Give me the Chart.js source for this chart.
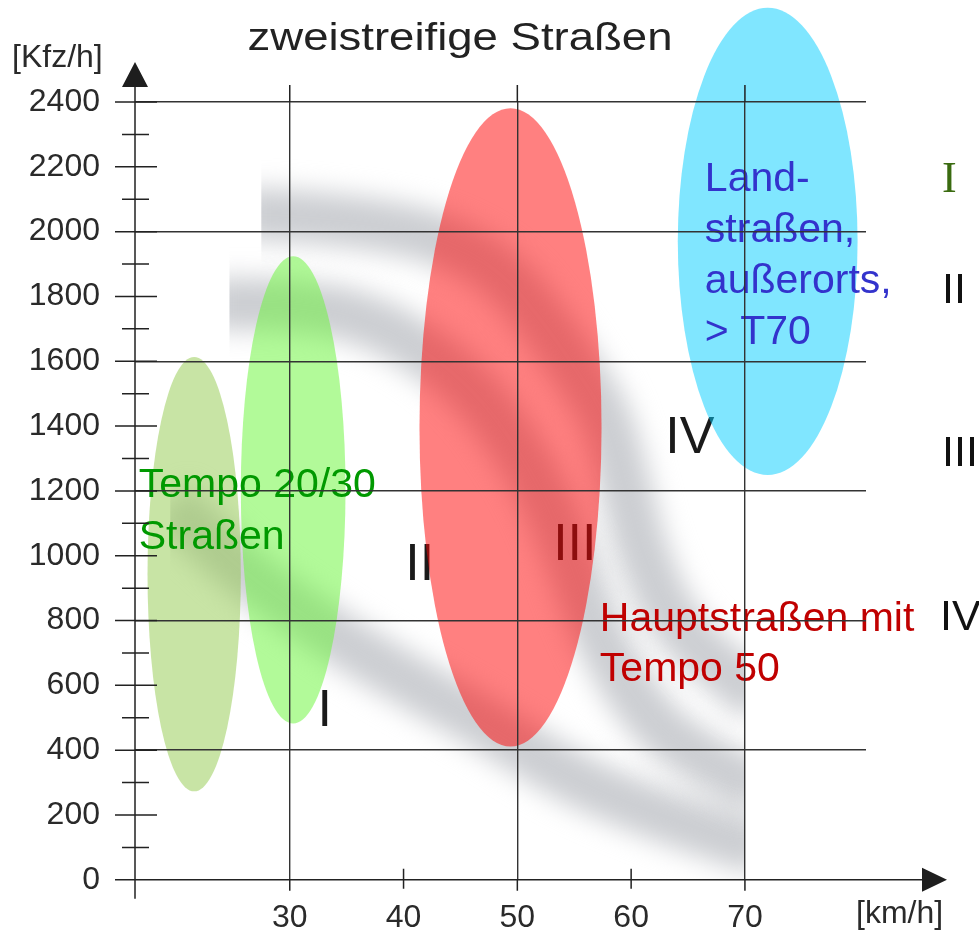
<!DOCTYPE html>
<html><head><meta charset="utf-8">
<script src="https://cdn.jsdelivr.net/npm/chart.js@4/dist/chart.umd.min.js"></script>
<style>html,body{margin:0;padding:0;background:#fff;}canvas{display:block;}</style>
</head><body>
<canvas id="c" width="979" height="934"></canvas>
<script>
// ---------- axes ----------
const SPEED_TICKS = [30, 40, 50, 60, 70];
const SPEED_GRID = [30, 50, 70];
const FLOW_TICKS = [0, 200, 400, 600, 800, 1000, 1200, 1400, 1600, 1800, 2000, 2200, 2400];
const FLOW_MINOR = [100, 300, 500, 700, 900, 1100, 1300, 1500, 1700, 1900, 2100, 2300];
const FLOW_GRID = [400, 800, 1200, 1600, 2000, 2400];
const SPEED_MIN = 16.4, SPEED_MAX = 80.64, FLOW_MIN = 0, FLOW_MAX = 2400;

// ---------- road types (ellipses) ----------
const ROAD_TYPES = ['Tempo 20', 'Tempo 30', 'Hauptstraßen Tempo 50', 'Landstraßen außerorts'];
const ROAD_SPEED = [21.6, 30.3, 49.4, 72.0];
const ROAD_FLOW = [943, 1203, 1396, 1970];
const ROAD_SPEED_SPREAD = [4.1, 4.6, 8.0, 7.9];
const ROAD_FLOW_SPREAD = [670, 721, 985, 721];

// ---------- zone boundary bands ----------
const BAND_A_SPEED = [25.6, 27.5, 33.5, 39.7, 44.1, 48.5, 52.0, 55.1, 57.7, 59.5, 61.2, 64.3, 70.0, 71.5];
const BAND_A_FLOW  = [2053, 2053, 2038, 2007, 1961, 1869, 1731, 1577, 1424, 1209, 994, 780, 595, 560];
const BAND_B_SPEED = [23.0, 24.7, 30.9, 36.2, 41.4, 45.8, 49.3, 52.4, 54.6, 57.3, 61.7, 66.0, 70.0, 71.5];
const BAND_B_FLOW  = [1777, 1777, 1768, 1731, 1639, 1516, 1363, 1179, 994, 749, 503, 381, 304, 285];
const BAND_C_SPEED = [19.5, 25.6, 30.9, 36.2, 41.4, 46.7, 50.0, 55.5, 61.7, 70.0, 71.5];
const BAND_C_FLOW  = [1163, 964, 826, 703, 595, 488, 417, 304, 212, 110, 95];
const BAND_START = [27.5, 24.7, 19.5];
const BAND_END = 70;

// ---------- labels ----------
const ZONE_LABELS = ['I', 'II', 'III', 'IV'];
const ZONE_SPEED = [33.08, 41.43, 55.05, 65.16];
const ZONE_FLOW = [519, 970, 1031, 1360];
const SIDE_LABELS = ['I', 'II', 'III', 'IV'];
const SIDE_FLOW = [2121, 1780, 1277, 770];
const ROAD_TEXT = [['Tempo 20/30', 'Straßen'], ['Hauptstraßen mit', 'Tempo 50'], ['Land-', 'straßen,', 'außerorts,', '> T70']];
const ROAD_TEXT_SPEED = [16.73, 57.25, 66.48];
const ROAD_TEXT_FLOW = [1182, 767, 2124];

const FONT = '"Liberation Sans", Arial, sans-serif';
const ELL_COLORS = ['rgba(145,201,75,0.5)', 'rgba(101,245,51,0.5)', 'rgba(255,1,1,0.5)', 'rgba(1,205,255,0.5)'];
const TEXT_COLORS = ['#009900', '#C00000', '#3333CC'];
const GRID_COLOR = '#333333';

const toPts = (xs, ys) => xs.map((v, i) => ({x: v, y: ys[i]}));
const bandStyle = {type: 'line', band: true, borderColor: 'rgb(204,206,210)', borderWidth: 52, pointRadius: 0, tension: 0.4, fill: false, blur: 13};

const bandPlugin = {
  id: 'bandPlugin',
  beforeDatasetDraw(chart, args) {
    const ds = chart.data.datasets[args.index];
    if (!ds.band) return;
    const {ctx, chartArea: a, scales: {x}} = chart;
    ctx.save();
    const l = x.getPixelForValue(ds.clipFrom), r = x.getPixelForValue(BAND_END);
    ctx.beginPath(); ctx.rect(l, a.top, r - l, a.bottom - a.top); ctx.clip();
    ctx.filter = 'blur(' + ds.blur + 'px)';
    ctx.globalCompositeOperation = 'multiply';
  },
  afterDatasetDraw(chart, args) {
    if (chart.data.datasets[args.index].band) chart.ctx.restore();
  },
  afterDatasetsDraw(chart) {
    const {ctx, scales: {x, y}} = chart;
    ctx.save();
    // zone labels (under the ellipses)
    ctx.fillStyle = '#1a1a1a';
    ctx.font = '52px ' + FONT;
    ctx.textAlign = 'center'; ctx.textBaseline = 'middle';
    ZONE_LABELS.forEach((t, i) => ctx.fillText(t, x.getPixelForValue(ZONE_SPEED[i]), y.getPixelForValue(ZONE_FLOW[i])));
    // ellipses
    ROAD_TYPES.forEach((n, i) => {
      const cx = x.getPixelForValue(ROAD_SPEED[i]), cy = y.getPixelForValue(ROAD_FLOW[i]);
      const rx = Math.abs(x.getPixelForValue(ROAD_SPEED[i] + ROAD_SPEED_SPREAD[i]) - cx);
      const ry = Math.abs(y.getPixelForValue(ROAD_FLOW[i] + ROAD_FLOW_SPREAD[i]) - cy);
      ctx.beginPath(); ctx.ellipse(cx, cy, rx, ry, 0, 0, Math.PI * 2);
      ctx.fillStyle = ELL_COLORS[i]; ctx.fill();
    });
    // road type texts
    ctx.font = '41px ' + FONT;
    ctx.textAlign = 'left'; ctx.textBaseline = 'alphabetic';
    const lh = [52, 50, 51];
    ROAD_TEXT.forEach((lines, i) => {
      ctx.fillStyle = TEXT_COLORS[i];
      const bx = x.getPixelForValue(ROAD_TEXT_SPEED[i]), by = y.getPixelForValue(ROAD_TEXT_FLOW[i]);
      lines.forEach((t, j) => ctx.fillText(t, bx, by + j * lh[i]));
    });
    ctx.restore();
  },
  afterDraw(chart) {
    const {ctx, chartArea: a, scales: {x, y}} = chart;
    ctx.save();
    ctx.strokeStyle = '#222'; ctx.fillStyle = '#1e1e1e'; ctx.lineWidth = 1.5;
    const ax = x.getPixelForValue(SPEED_MIN), ay = y.getPixelForValue(FLOW_MIN);
    ctx.beginPath();
    ctx.moveTo(ax, ay + 19); ctx.lineTo(ax, a.top - 17);
    ctx.moveTo(ax - 20, ay); ctx.lineTo(a.right + 58, ay);
    FLOW_TICKS.forEach(v => { const p = y.getPixelForValue(v); ctx.moveTo(ax - 20, p); ctx.lineTo(ax + 22, p); });
    FLOW_MINOR.forEach(v => { const p = y.getPixelForValue(v); ctx.moveTo(ax - 13, p); ctx.lineTo(ax + 14, p); });
    SPEED_TICKS.forEach(v => {
      const p = x.getPixelForValue(v);
      if (SPEED_GRID.includes(v)) { ctx.moveTo(p, a.top); ctx.lineTo(p, a.top - 17); ctx.moveTo(p, ay); ctx.lineTo(p, ay + 11); }
      else { ctx.moveTo(p, ay - 11); ctx.lineTo(p, ay + 9); }
    });
    ctx.stroke();
    // arrows
    ctx.beginPath();
    ctx.moveTo(ax, a.top - 40); ctx.lineTo(ax - 13, a.top - 15); ctx.lineTo(ax + 13, a.top - 15); ctx.closePath();
    ctx.moveTo(a.right + 81, ay); ctx.lineTo(a.right + 56, ay - 12); ctx.lineTo(a.right + 56, ay + 12); ctx.closePath();
    ctx.fill();
    // axis titles
    ctx.fillStyle = '#2a2a2a';
    ctx.font = '32px ' + FONT; ctx.textBaseline = 'alphabetic'; ctx.textAlign = 'left';
    ctx.fillText('[Kfz/h]', 12, 67);
    ctx.fillText('[km/h]', 856, 923);
    // title
    ctx.fillStyle = '#222';
    ctx.font = '38px ' + FONT;
    const t = 'zweistreifige Straßen', w = ctx.measureText(t).width, sx = 425 / w;
    ctx.save(); ctx.translate(460, 50); ctx.scale(sx, 1); ctx.textAlign = 'center'; ctx.fillText(t, 0, 0); ctx.restore();
    // side labels
    SIDE_LABELS.forEach((s, i) => {
      const py = y.getPixelForValue(SIDE_FLOW[i]);
      if (i === 0) { ctx.font = '44px "Liberation Serif", "Times New Roman", serif'; ctx.fillStyle = '#3A6B10'; }
      else { ctx.font = '43px ' + FONT; ctx.fillStyle = '#111'; }
      ctx.fillText(s, i === 3 ? 940 : 942, py);
    });
    ctx.restore();
  }
};

new Chart(document.getElementById('c'), {
  type: 'scatter',
  data: {
    datasets: [
      Object.assign({}, bandStyle, {label: 'Grenze III/IV', data: toPts(BAND_A_SPEED, BAND_A_FLOW), clipFrom: BAND_START[0]}),
      Object.assign({}, bandStyle, {label: 'Grenze II/III', data: toPts(BAND_B_SPEED, BAND_B_FLOW), clipFrom: BAND_START[1]}),
      Object.assign({}, bandStyle, {label: 'Grenze I/II', data: toPts(BAND_C_SPEED, BAND_C_FLOW), clipFrom: BAND_START[2]})
    ]
  },
  options: {
    responsive: false, animation: false, devicePixelRatio: 1,
    layout: {padding: {left: 0, top: 102, right: 113, bottom: 0}},
    plugins: {legend: {display: false}, tooltip: {enabled: false}, title: {display: false}},
    scales: {
      x: {
        type: 'linear', min: SPEED_MIN, max: SPEED_MAX,
        afterBuildTicks: s => { s.ticks = SPEED_TICKS.map(v => ({value: v})); },
        afterFit: s => { s.height = 50; },
        grid: {z: 1, drawTicks: false, lineWidth: 1.4, color: c => SPEED_GRID.includes(c.tick && c.tick.value) ? GRID_COLOR : 'rgba(0,0,0,0)'},
        border: {display: false},
        ticks: {padding: 19, color: '#2a2a2a', font: {family: FONT, size: 32}, maxRotation: 0, autoSkip: false, callback: v => String(v)}
      },
      y: {
        type: 'linear', min: FLOW_MIN, max: FLOW_MAX,
        afterBuildTicks: s => { s.ticks = FLOW_TICKS.map(v => ({value: v})); },
        afterFit: s => { s.width = 135; },
        grid: {z: 1, drawTicks: false, lineWidth: 1.4, color: c => FLOW_GRID.includes(c.tick && c.tick.value) ? GRID_COLOR : 'rgba(0,0,0,0)'},
        border: {display: false},
        ticks: {padding: 35, color: '#2a2a2a', font: {family: FONT, size: 32}, autoSkip: false, callback: v => String(v)}
      }
    }
  },
  plugins: [bandPlugin]
});
</script>
</body></html>
